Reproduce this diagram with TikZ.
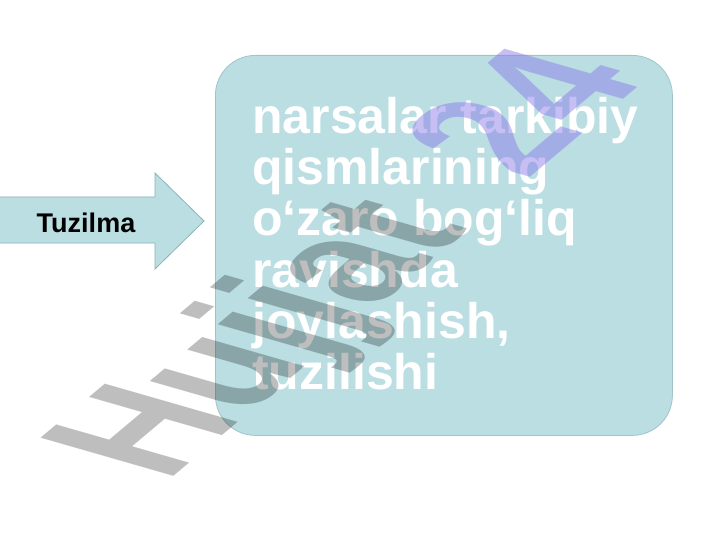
\documentclass[tikz,border=0pt]{standalone}
\usepackage{fontspec}
\setmainfont{Liberation Sans}
\definecolor{boxfill}{RGB}{186,222,226}
\definecolor{boxline}{RGB}{160,196,202}
\definecolor{arrowline}{RGB}{140,178,184}
\definecolor{wmgray}{RGB}{190,190,190}
\definecolor{wmlav}{RGB}{140,120,234}
\begin{document}
\begin{tikzpicture}[x=1pt,y=-1pt,
  panel/.style={draw=boxline, line width=0.8pt, fill=boxfill, rounded corners=40pt,
    minimum width=457pt, minimum height=380pt, anchor=north west, inner sep=0pt},
  bodytext/.style={text=white, font=\bfseries\fontsize{50}{51}\selectfont, anchor=base west, inner sep=0pt},
  arrowshape/.style={draw=arrowline, line width=0.8pt, fill=boxfill},
  arrowtext/.style={font=\bfseries\fontsize{27}{30}\selectfont, anchor=base, inner sep=0pt},
  wm/.style={font=\bfseries\fontsize{100}{100}\selectfont, anchor=base west, inner sep=0pt, transform shape}]
\useasboundingbox (0,0) rectangle (720,540);
\fill[white] (0,0) rectangle (720,540);

% right panel
\node[panel] (panel) at (215,55) {};

% arrow
\coordinate (a1) at (-2,197);
\coordinate (a2) at (155,197);
\coordinate (a3) at (155,173);
\coordinate (tip) at (204,221);
\coordinate (a5) at (155,269);
\coordinate (a6) at (155,243);
\coordinate (a7) at (-2,243);
\draw[arrowshape] (a1) -- (a2) -- (a3) -- (tip) -- (a5) -- (a6) -- (a7) -- cycle;
\node[arrowtext] (lbl) at (86,233) {Tuzilma};

% panel text
\node[bodytext] (l1) at (252,134) {narsalar tarkibiy};
\node[bodytext] (l2) at (252,185) {qismlarining};
\node[bodytext] (l3) at (252,236) {o‘zaro bog‘liq};
\node[bodytext] (l4) at (252,287) {ravishda};
\node[bodytext] (l5) at (252,338) {joylashish,};
\node[bodytext] (l6) at (252,389) {tuzilishi};

% watermark
\begin{scope}[cm={1.095,0.919,-1.932,0.555,(166,483)}]
  \begin{scope}[blend mode=multiply]
    \node[wm, text=wmgray] (wmA) at (0,0) {Hujjat};
  \end{scope}
  \node[wm, text=wmlav, opacity=0.48] (wmB) at (328.9,0) {24};
\end{scope}
\end{tikzpicture}
\end{document}
